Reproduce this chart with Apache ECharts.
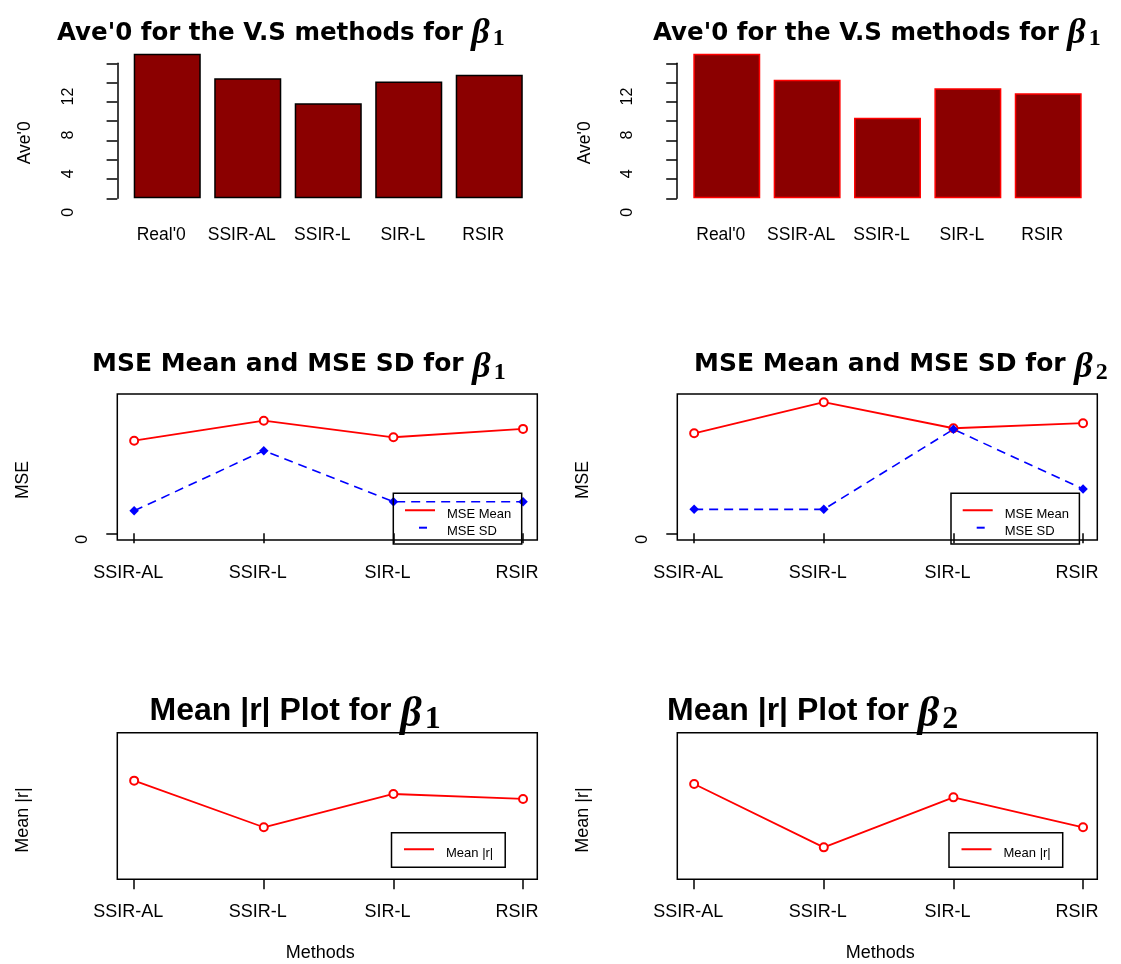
<!DOCTYPE html>
<html><head><meta charset="utf-8">
<script src="https://cdn.jsdelivr.net/npm/echarts@6/dist/echarts.min.js"></script>
<style>html,body{margin:0;padding:0;background:#fff}#c{width:1121px;height:964px}</style>
</head><body><div id="c"></div>
<script>
// ---------- data ----------
const barCategories = ["Real'0", "SSIR-AL", "SSIR-L", "SIR-L", "RSIR"];
const ave0Left  = [15.0, 12.45, 9.85, 12.1, 12.8];
const ave0Right = [15.0, 12.3, 8.35, 11.4, 10.9];
const barTickValues = [0, 2, 4, 6, 8, 10, 12, 14];
const barTickLabels = [0, 4, 8, 12];

const methods = ["SSIR-AL", "SSIR-L", "SIR-L", "RSIR"];
const methodPositions = [1, 2, 3, 4];
const mseMeanB1 = [0.698, 0.849, 0.724, 0.787];
const mseSdB1   = [0.170, 0.623, 0.238, 0.238];
const mseMeanB2 = [0.754, 0.988, 0.792, 0.830];
const mseSdB2   = [0.181, 0.181, 0.784, 0.334];
const mseTickLabels = [0];

const meanRB1 = [0.673, 0.355, 0.582, 0.548];
const meanRB2 = [0.650, 0.218, 0.559, 0.355];

// ---------- styling ----------
const FONT = 'Liberation Sans';
const RED = '#FF0000', BLUE = '#0000FF', DARKRED = '#8B0000';
const ICON_LINE = 'path://M0,0h30v2h-30zM37,10';
const ICON_DASH = 'path://M0,0M14,0h8v2h-8zM37,10';

function richTitle(aSize, aFam, bSize, sSize, lh, bShift, sShift) {
  return {
    a: {fontFamily: aFam, fontWeight: 'bold', fontSize: aSize, lineHeight: lh, color: '#000'},
    b: {fontFamily: 'Liberation Serif', fontWeight: 'bold', fontStyle: 'italic', fontSize: bSize,
        lineHeight: lh - 2 * Math.abs(bShift), padding: bShift >= 0 ? [2 * bShift, 0, 0, 0] : [0, 0, -2 * bShift, 0], color: '#000'},
    s: {fontFamily: 'Liberation Serif', fontWeight: 'bold', fontSize: sSize,
        lineHeight: lh - 2 * Math.abs(sShift), padding: sShift >= 0 ? [2 * sShift, 0, 0, 3] : [0, 0, -2 * sShift, 3], color: '#000'}
  };
}
const richTop = richTitle(24.5, 'DejaVu Sans', 36, 24, 40, 0, 5);
const richMid = richTitle(25, 'DejaVu Sans', 36, 24, 44, 3, 8);
const richBot = richTitle(32, 'Liberation Sans', 42, 32, 52, 4, 9);

const titles = [
  {left: 57, top: 13.4, text: "{a|Ave'0 for the V.S methods for }{b|β}{s|1}", rich: richTop},
  {left: 653, top: 13.4, text: "{a|Ave'0 for the V.S methods for }{b|β}{s|1}", rich: richTop},
  {left: 92, top: 342.3, text: "{a|MSE Mean and MSE SD for }{b|β}{s|1}", rich: richMid},
  {left: 694, top: 342.3, text: "{a|MSE Mean and MSE SD for }{b|β}{s|2}", rich: richMid},
  {left: 149.5, top: 685, text: "{a|Mean |r| Plot for }{b|β}{s|1}", rich: richBot},
  {left: 667, top: 685, text: "{a|Mean |r| Plot for }{b|β}{s|2}", rich: richBot}
].map(t => ({left: t.left, top: t.top, padding: 0, text: t.text, textStyle: {rich: t.rich}}));

const grids = [
  {left: 127, top: 63.3, width: 402.5, height: 135},
  {left: 686.6, top: 63.3, width: 401.8, height: 135},
  {left: 117.3, top: 394, width: 420, height: 146, show: true, borderColor: '#000', borderWidth: 1.5},
  {left: 677.3, top: 394, width: 420, height: 146, show: true, borderColor: '#000', borderWidth: 1.5},
  {left: 117.3, top: 732.7, width: 420, height: 146.6, show: true, borderColor: '#000', borderWidth: 1.5},
  {left: 677.3, top: 732.7, width: 420, height: 146.6, show: true, borderColor: '#000', borderWidth: 1.5}
].map(g => Object.assign({containLabel: false, outerBoundsMode: 'none', backgroundColor: 'transparent'}, g));

const axisTxt = {color: '#000', fontFamily: FONT};
function barX(i) {
  return {gridIndex: i, type: 'category', data: barCategories,
    axisLine: {show: false}, axisTick: {show: false},
    axisLabel: Object.assign({interval: 0, fontSize: 17.5, margin: 28, padding: [0, 12, 0, 0]}, axisTxt)};
}
function barY(i) {
  return {gridIndex: i, type: 'value', min: 0, max: 14, offset: 9.7,
    axisLine: {show: true, lineStyle: {color: '#000', width: 1.5}},
    axisTick: {show: true, length: 10.7, customValues: barTickValues, lineStyle: {color: '#000', width: 1.5}},
    axisLabel: Object.assign({customValues: barTickLabels, rotate: 90, fontSize: 16, margin: 41, padding: [0, 28, 0, 0]}, axisTxt),
    splitLine: {show: false},
    name: "Ave'0", nameLocation: 'middle', nameRotate: 90, nameGap: 83,
    nameTextStyle: Object.assign({fontSize: 17.5, padding: [0, 24, 0, 0]}, axisTxt)};
}
function lineX(i, withName) {
  const ax = {gridIndex: i, type: 'value', min: 0.87, max: 4.11,
    axisLine: {show: false},
    axisTick: {show: true, length: 10, customValues: methodPositions, lineStyle: {color: '#000', width: 1.5}},
    axisLabel: Object.assign({customValues: methodPositions, fontSize: 18, margin: 24, padding: [0, 12, 0, 0],
      formatter: v => methods[Math.round(v) - 1]}, axisTxt),
    splitLine: {show: false}};
  if (withName) {
    ax.name = 'Methods'; ax.nameLocation = 'middle'; ax.nameGap = 65;
    ax.nameTextStyle = Object.assign({fontSize: 18, padding: [0, 14, 0, 0]}, axisTxt);
  }
  return ax;
}
function mseY(i) {
  return {gridIndex: i, type: 'value', min: -0.05, max: 1.05,
    axisLine: {show: false},
    axisTick: {show: true, length: 11, customValues: mseTickLabels, lineStyle: {color: '#000', width: 1.5}},
    axisLabel: Object.assign({customValues: mseTickLabels, rotate: 90, fontSize: 16, margin: 27, padding: [0, 12, 0, 0]}, axisTxt),
    splitLine: {show: false},
    name: 'MSE', nameLocation: 'middle', nameRotate: 90, nameGap: 85,
    nameTextStyle: Object.assign({fontSize: 17.5, padding: [0, 26, 0, 0]}, axisTxt)};
}
function rY(i) {
  return {gridIndex: i, type: 'value', min: 0, max: 1,
    axisLine: {show: false}, axisTick: {show: false}, axisLabel: {show: false}, splitLine: {show: false},
    name: 'Mean |r|', nameLocation: 'middle', nameRotate: 90, nameGap: 85,
    nameTextStyle: Object.assign({fontSize: 18, padding: [0, 28, 0, 0]}, axisTxt)};
}

function barSeries(i, data, border) {
  return {type: 'bar', xAxisIndex: i, yAxisIndex: i, data: data, clip: false,
    barCategoryGap: '16.7%', silent: true,
    itemStyle: {color: DARKRED, borderColor: border, borderWidth: 1.5}};
}
function pts(vals) { return vals.map((v, k) => [methodPositions[k], v]); }
function meanSeries(i, name, vals) {
  return {type: 'line', name: name, xAxisIndex: i, yAxisIndex: i, data: pts(vals),
    symbol: 'emptyCircle', symbolSize: 8, silent: true,
    lineStyle: {color: RED, width: 1.8}, itemStyle: {color: RED, borderWidth: 1.5}};
}
function sdSeries(i, vals) {
  return {type: 'line', name: 'MSE SD', xAxisIndex: i, yAxisIndex: i, data: pts(vals),
    symbol: 'diamond', symbolSize: 9.5, silent: true,
    lineStyle: {color: BLUE, width: 1.6, type: [9, 6]}, itemStyle: {color: BLUE}};
}
function legend(left, top, pad, items) {
  return {left: left, top: top, orient: 'vertical', padding: pad, itemWidth: 37, itemHeight: 10, itemGap: 4.4,
    borderColor: '#000', borderWidth: 1.5, borderRadius: 0, selectedMode: false,
    itemStyle: {borderWidth: 0},
    textStyle: {fontSize: 13, lineHeight: 13, fontFamily: FONT, color: '#000'},
    data: items};
}
const mseLegendItems = [{name: 'MSE Mean', icon: ICON_LINE}, {name: 'MSE SD', icon: ICON_DASH}];
const rLegendItems = [{name: 'Mean |r|', icon: ICON_LINE}];

const option = {
  animation: false,
  backgroundColor: '#fff',
  title: titles,
  grid: grids,
  xAxis: [barX(0), barX(1), lineX(2, false), lineX(3, false), lineX(4, true), lineX(5, true)],
  yAxis: [barY(0), barY(1), mseY(2), mseY(3), rY(4), rY(5)],
  legend: [
    legend(393.3, 493.3, [14.5, 10.4, 5.8, 11.7], mseLegendItems),
    legend(951, 493.3, [14.5, 10.4, 5.8, 11.7], mseLegendItems),
    legend(391.5, 832.7, [14.1, 12, 7.5, 12.5], rLegendItems),
    legend(949, 832.7, [14.1, 12, 7.5, 12.5], rLegendItems)
  ],
  series: [
    barSeries(0, ave0Left, '#000'),
    barSeries(1, ave0Right, RED),
    meanSeries(2, 'MSE Mean', mseMeanB1), sdSeries(2, mseSdB1),
    meanSeries(3, 'MSE Mean', mseMeanB2), sdSeries(3, mseSdB2),
    meanSeries(4, 'Mean |r|', meanRB1),
    meanSeries(5, 'Mean |r|', meanRB2)
  ]
};
const chart = echarts.init(document.getElementById('c'), null, {renderer: 'canvas', width: 1121, height: 964});
chart.setOption(option);
</script></body></html>
